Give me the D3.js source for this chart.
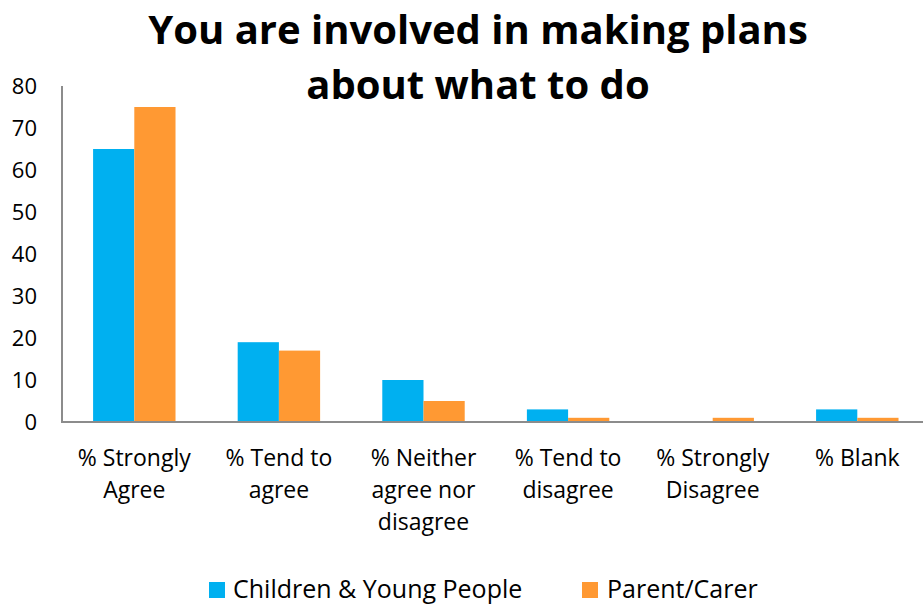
<!DOCTYPE html>
<html><head><meta charset="utf-8">
<script src="https://cdn.jsdelivr.net/npm/d3@7"></script>
<style>body{margin:0;background:#fff}svg{display:block}text{font-family:"Open Sans","Noto Sans",sans-serif;fill:#000}</style>
</head><body><svg id="c" width="923" height="604"></svg>
<script>
const categories = [["% Strongly","Agree"],["% Tend to","agree"],["% Neither","agree nor","disagree"],["% Tend to","disagree"],["% Strongly","Disagree"],["% Blank"]];
const seriesNames = ["Children & Young People","Parent/Carer"];
const children = [65, 19, 10, 3, 0, 3];
const parents = [75, 17, 5, 1, 1, 1];
const yTicks = [0,10,20,30,40,50,60,70,80];
const titleLines = ["You are involved in making plans","about what to do"];
const colors = ["#00B0F0","#FF9933"];

const svg = d3.select("#c");
const mLeft = 62, mRight = 929.6, mTop = 86, mBottom = 422;
const ids = categories.map((d,i)=>i);
const x = d3.scaleBand().domain(ids).range([mLeft,mRight]).paddingInner(0.43).paddingOuter(0.215);
const x1 = d3.scaleBand().domain([0,1]).range([0,x.bandwidth()]);
const y = d3.scaleLinear().domain([0,80]).range([mBottom,mTop]);

const series = [children, parents];
series.forEach((vals,s)=>{
  svg.append("g").selectAll("rect").data(vals).join("rect")
    .attr("x",(d,i)=>x(i)+x1(s)).attr("width",x1.bandwidth())
    .attr("y",d=>y(d)).attr("height",d=>y(0)-y(d))
    .attr("fill",colors[s]);
});

svg.append("line").attr("x1",mLeft).attr("x2",923).attr("y1",mBottom).attr("y2",mBottom).attr("stroke","#8c8c8c").attr("stroke-width",2);
svg.append("line").attr("x1",mLeft).attr("x2",mLeft).attr("y1",mTop).attr("y2",mBottom+1).attr("stroke","#8c8c8c").attr("stroke-width",2);

svg.append("g").selectAll("text").data(yTicks).join("text")
  .attr("x",37).attr("y",d=>y(d)+7.5).attr("text-anchor","end")
  .style("font-size","22px").text(d=>d);

const cl = svg.append("g").selectAll("text").data(categories).join("text")
  .attr("text-anchor","middle").style("font-size","23px")
  .attr("x",(d,i)=>x(i)+x.bandwidth()/2).attr("y",466);
cl.selectAll("tspan").data(d=>d).join("tspan")
  .attr("x",function(){return this.parentNode.getAttribute("x");})
  .attr("dy",(d,i)=>i===0?0:32).text(d=>d);

svg.append("g").selectAll("text").data(titleLines).join("text")
  .attr("x",478).attr("y",(d,i)=>44+i*55).attr("text-anchor","middle")
  .style("font-size","40px").style("font-weight","bold").text(d=>d);

const lg = [{x:209,tx:233},{x:582,tx:607}];
seriesNames.forEach((n,i)=>{
  svg.append("rect").attr("x",lg[i].x).attr("y",582).attr("width",16).attr("height",16).attr("fill",colors[i]);
  svg.append("text").attr("x",lg[i].tx).attr("y",598).style("font-size","25px").text(n);
});
</script></body></html>
